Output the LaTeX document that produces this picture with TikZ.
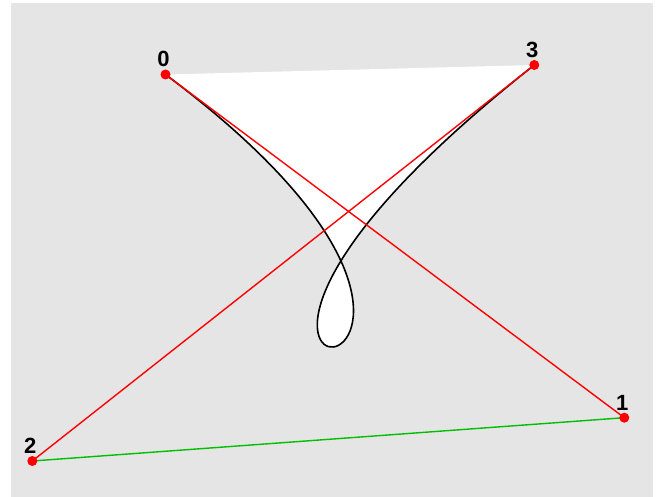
\documentclass[tikz,border=0pt]{standalone}
\usepackage{fontspec}
\setmainfont{Liberation Sans}
\usetikzlibrary{positioning}
\pgfdeclarelayer{back}
\pgfdeclarelayer{lines}
\pgfsetlayers{back,lines,main}

\begin{document}
\begin{tikzpicture}[x=1pt, y=-1pt,
                    dot/.style={circle, fill=red, inner sep=0pt, minimum size=10pt},
                    num/.style={font=\fontsize{22}{22}\selectfont\bfseries, inner sep=0pt},
                    ctrl/.style={red, line width=1.4pt},
                    base/.style={green!75!black, line width=1.4pt},
                    curve/.style={black, line width=1.6pt}]

    \node[dot] (p0) at (165.5,74.5) {};
    \node[dot] (p1) at (624.3,417.7) {};
    \node[dot] (p2) at (32.3,461)   {};
    \node[dot] (p3) at (534.3,65)   {};

    \node[num, above=2pt of p0, xshift=-2pt] (n0) {0};
    \node[num, above=2pt of p1, xshift=-2pt] (n1) {1};
    \node[num, above=2pt of p2, xshift=-2pt] (n2) {2};
    \node[num, above=2pt of p3, xshift=-2pt] (n3) {3};

    \begin{pgfonlayer}{back}
        \fill[white] (0,0) rectangle (662,497);
        \fill[gray!20] (11,3) rectangle (653,497);
    \end{pgfonlayer}

    \begin{pgfonlayer}{lines}
        % area under the curve
        \fill[white] (p0.center) .. controls (p1.center) and (p2.center) .. (p3.center) -- cycle;
        \draw[curve] (p0.center) .. controls (p1.center) and (p2.center) .. (p3.center);

        \draw[ctrl] (p0.center) -- (p1.center);
        \draw[ctrl] (p3.center) -- (p2.center);
        \draw[base] (p2.center) -- (p1.center);
    \end{pgfonlayer}

    \useasboundingbox (0,0) rectangle (662,497);
\end{tikzpicture}
\end{document}
